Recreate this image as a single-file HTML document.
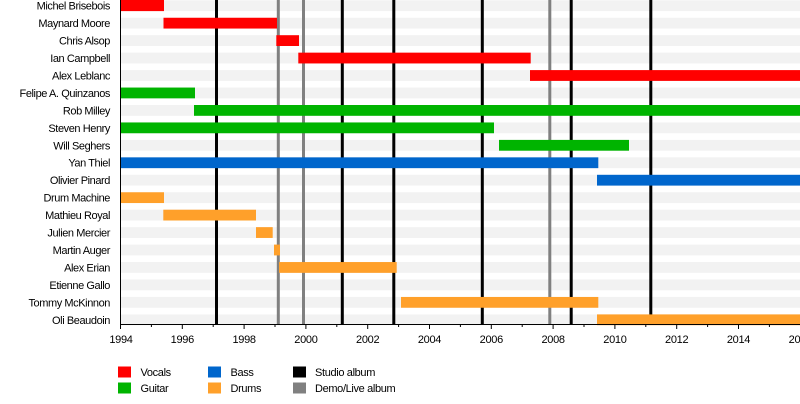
<!DOCTYPE html>
<html><head><meta charset="utf-8"><style>
html,body{margin:0;padding:0;background:#fff;}
svg{display:block;font-family:"Liberation Sans",Arial,sans-serif;}
</style></head><body>
<svg width="800" height="404" viewBox="0 0 800 404" xmlns="http://www.w3.org/2000/svg">
<g fill="#f2f2f2">
<rect x="121" y="0.3" width="679" height="10.8"/>
<rect x="121" y="17.75" width="679" height="10.8"/>
<rect x="121" y="35.2" width="679" height="10.8"/>
<rect x="121" y="52.65" width="679" height="10.8"/>
<rect x="121" y="70.1" width="679" height="10.8"/>
<rect x="121" y="87.55" width="679" height="10.8"/>
<rect x="121" y="105" width="679" height="10.8"/>
<rect x="121" y="122.45" width="679" height="10.8"/>
<rect x="121" y="139.9" width="679" height="10.8"/>
<rect x="121" y="157.35" width="679" height="10.8"/>
<rect x="121" y="174.8" width="679" height="10.8"/>
<rect x="121" y="192.25" width="679" height="10.8"/>
<rect x="121" y="209.7" width="679" height="10.8"/>
<rect x="121" y="227.15" width="679" height="10.8"/>
<rect x="121" y="244.6" width="679" height="10.8"/>
<rect x="121" y="262.05" width="679" height="10.8"/>
<rect x="121" y="279.5" width="679" height="10.8"/>
<rect x="121" y="296.95" width="679" height="10.8"/>
<rect x="121" y="314.4" width="679" height="10.8"/>
</g>
<g>
<rect x="215" y="0" width="3" height="324" fill="#000"/>
<rect x="276.8" y="0" width="3" height="324" fill="#808080"/>
<rect x="302" y="0" width="3" height="324" fill="#808080"/>
<rect x="340.8" y="0" width="3" height="324" fill="#000"/>
<rect x="392.3" y="0" width="3" height="324" fill="#000"/>
<rect x="480.8" y="0" width="3" height="324" fill="#000"/>
<rect x="548.3" y="0" width="3" height="324" fill="#808080"/>
<rect x="569.7" y="0" width="3" height="324" fill="#000"/>
<rect x="649.3" y="0" width="3" height="324" fill="#000"/>
</g>
<g fill="#ff0000">
<rect x="121" y="0" width="43" height="11.1"/>
<rect x="163.5" y="17.75" width="113.5" height="10.8"/>
<rect x="276.3" y="35.2" width="22.7" height="10.8"/>
<rect x="298.3" y="52.65" width="232.4" height="10.8"/>
<rect x="530" y="70.1" width="270" height="10.8"/>
</g>
<g fill="#00b400">
<rect x="121" y="87.55" width="74" height="10.8"/>
<rect x="194" y="105" width="606" height="10.8"/>
<rect x="121" y="122.45" width="373" height="10.8"/>
<rect x="499" y="139.9" width="130" height="10.8"/>
</g>
<g fill="#0066cc">
<rect x="121" y="157.35" width="477.3" height="10.8"/>
<rect x="597" y="174.8" width="203" height="10.8"/>
</g>
<g fill="#ffa02a">
<rect x="121" y="192.25" width="43" height="10.8"/>
<rect x="163.3" y="209.7" width="92.7" height="10.8"/>
<rect x="256" y="227.15" width="16.7" height="10.8"/>
<rect x="274" y="244.6" width="6" height="10.8"/>
<rect x="279" y="262.05" width="117.7" height="10.8"/>
<rect x="401" y="296.95" width="197.3" height="10.8"/>
<rect x="597" y="314.4" width="203" height="10.8"/>
</g>
<line x1="120.5" y1="0" x2="120.5" y2="325" stroke="#000" stroke-width="1"/>
<line x1="120.5" y1="324.5" x2="800" y2="324.5" stroke="#000" stroke-width="1"/>
<g stroke="#000" stroke-width="1">
<line x1="120.5" y1="324" x2="120.5" y2="329"/>
<line x1="151.4" y1="324" x2="151.4" y2="327"/>
<line x1="182.3" y1="324" x2="182.3" y2="329"/>
<line x1="213.2" y1="324" x2="213.2" y2="327"/>
<line x1="244.1" y1="324" x2="244.1" y2="329"/>
<line x1="275" y1="324" x2="275" y2="327"/>
<line x1="305.9" y1="324" x2="305.9" y2="329"/>
<line x1="336.8" y1="324" x2="336.8" y2="327"/>
<line x1="367.7" y1="324" x2="367.7" y2="329"/>
<line x1="398.6" y1="324" x2="398.6" y2="327"/>
<line x1="429.5" y1="324" x2="429.5" y2="329"/>
<line x1="460.4" y1="324" x2="460.4" y2="327"/>
<line x1="491.3" y1="324" x2="491.3" y2="329"/>
<line x1="522.2" y1="324" x2="522.2" y2="327"/>
<line x1="553.1" y1="324" x2="553.1" y2="329"/>
<line x1="584" y1="324" x2="584" y2="327"/>
<line x1="614.9" y1="324" x2="614.9" y2="329"/>
<line x1="645.8" y1="324" x2="645.8" y2="327"/>
<line x1="676.7" y1="324" x2="676.7" y2="329"/>
<line x1="707.6" y1="324" x2="707.6" y2="327"/>
<line x1="738.5" y1="324" x2="738.5" y2="329"/>
<line x1="769.4" y1="324" x2="769.4" y2="327"/>
</g>
<g font-size="11" fill="#000" text-anchor="middle" letter-spacing="-0.3">
<text x="121" y="343">1994</text>
<text x="182.3" y="343">1996</text>
<text x="244.1" y="343">1998</text>
<text x="305.9" y="343">2000</text>
<text x="367.7" y="343">2002</text>
<text x="429.5" y="343">2004</text>
<text x="491.3" y="343">2006</text>
<text x="553.1" y="343">2008</text>
<text x="614.9" y="343">2010</text>
<text x="676.7" y="343">2012</text>
<text x="738.5" y="343">2014</text>
<text x="800.3" y="343">2016</text>
</g>
<g font-size="11" fill="#000" text-anchor="end" letter-spacing="-0.42">
<text x="110" y="9.7">Michel Brisebois</text>
<text x="110" y="27.1">Maynard Moore</text>
<text x="110" y="44.6">Chris Alsop</text>
<text x="110" y="62">Ian Campbell</text>
<text x="110" y="79.5">Alex Leblanc</text>
<text x="110" y="96.9">Felipe A. Quinzanos</text>
<text x="110" y="114.4">Rob Milley</text>
<text x="110" y="131.8">Steven Henry</text>
<text x="110" y="149.3">Will Seghers</text>
<text x="110" y="166.7">Yan Thiel</text>
<text x="110" y="184.2">Olivier Pinard</text>
<text x="110" y="201.6">Drum Machine</text>
<text x="110" y="219.1">Mathieu Royal</text>
<text x="110" y="236.5">Julien Mercier</text>
<text x="110" y="254">Martin Auger</text>
<text x="110" y="271.4">Alex Erian</text>
<text x="110" y="288.9">Etienne Gallo</text>
<text x="110" y="306.3">Tommy McKinnon</text>
<text x="110" y="323.8">Oli Beaudoin</text>
</g>
<rect x="118" y="366.5" width="13" height="11" fill="#ff0000"/>
<rect x="118" y="382.5" width="13" height="11" fill="#00b400"/>
<rect x="208" y="366.5" width="13" height="11" fill="#0066cc"/>
<rect x="208" y="382.5" width="13" height="11" fill="#ffa02a"/>
<rect x="293" y="366.5" width="13" height="11" fill="#000"/>
<rect x="293" y="382.5" width="13" height="11" fill="#808080"/>
<g font-size="11" fill="#000" letter-spacing="-0.35">
<text x="140.5" y="376">Vocals</text>
<text x="140.5" y="392">Guitar</text>
<text x="230.5" y="376">Bass</text>
<text x="230.5" y="392">Drums</text>
<text x="315" y="376">Studio album</text>
<text x="315" y="392">Demo/Live album</text>
</g>
</svg>
</body></html>
